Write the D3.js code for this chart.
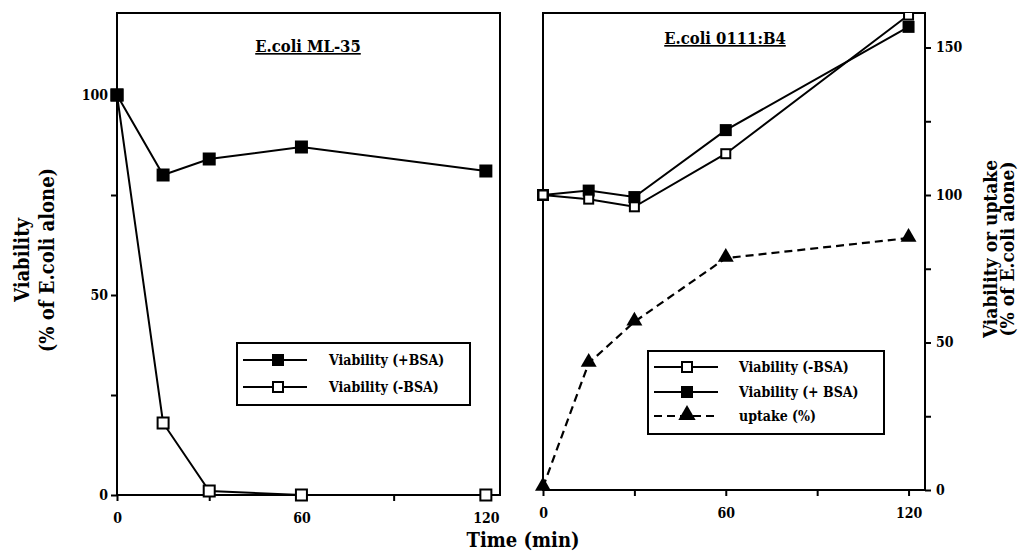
<!DOCTYPE html>
<html>
<head>
<meta charset="utf-8">
<script src="https://cdn.jsdelivr.net/npm/d3@7"></script>
<style>
  body { margin: 0; background: #fff; }
  svg text { font-family: "DejaVu Serif Condensed", "DejaVu Serif", serif; font-stretch: condensed; font-weight: bold; fill: #000; }
</style>
</head>
<body>
<svg id="chart" width="1020" height="553"></svg>
<script>
// ---- data ----
const times = [0, 15, 30, 60, 120];
const xTicks = [0, 60, 120];
const xMinorTicks = [30, 90];

// Left panel: E.coli ML-35
const leftTitle = "E.coli ML-35";
const leftPlusBSA = [100, 80, 84, 87, 81];
const leftMinusBSA = [100, 18, 1, 0, 0];
const leftYTicks = [0, 50, 100];
const leftYMinor = [25, 75];

// Right panel: E.coli 0111:B4
const rightTitle = "E.coli 0111:B4";
const rightMinusBSA = [100, 98.6, 96, 114, 161];
const rightPlusBSA = [100, 101.5, 99.3, 122, 157];
const rightUptake = [1, 43, 57, 78.6, 85.4];
const rightYTicks = [0, 50, 100, 150];
const rightYMinor = [25, 75, 125];

const svg = d3.select("#chart");

function squareMarker(g, pts, filled, size) {
  g.selectAll(null).data(pts).enter().append("rect")
    .attr("x", d => d[0] - size / 2).attr("y", d => d[1] - size / 2)
    .attr("width", size).attr("height", size)
    .attr("fill", filled ? "#000" : "#fff")
    .attr("stroke", "#000").attr("stroke-width", 2);
}
function triMarker(g, pts, size) {
  const sym = d3.symbol().type(d3.symbolTriangle).size(size);
  g.selectAll(null).data(pts).enter().append("path")
    .attr("d", sym).attr("transform", d => `translate(${d[0]},${d[1]})`)
    .attr("fill", "#000");
}
function styleAxis(a) {
  a.select(".domain").remove();
  a.selectAll("line").attr("stroke", "#000").attr("stroke-width", 2);
  a.selectAll("text").style("font-size", "14px");
}

// ---------------- LEFT PANEL ----------------
{
  const x = d3.scaleLinear().domain([0, 124.6]).range([117, 500]);
  const y = d3.scaleLinear().domain([0, 120.5]).range([495, 13]);
  const g = svg.append("g");

  g.append("rect").attr("x", 117).attr("y", 13).attr("width", 383).attr("height", 482)
    .attr("fill", "none").attr("stroke", "#000").attr("stroke-width", 2);

  [
    g.append("g").attr("transform", "translate(117,0)")
      .call(d3.axisLeft(y).tickValues(leftYTicks).tickSize(6).tickPadding(3).tickFormat(d3.format("d"))),
    g.append("g").attr("transform", "translate(117,0)")
      .call(d3.axisLeft(y).tickValues(leftYMinor).tickSize(6).tickFormat("")),
    g.append("g").attr("transform", "translate(0,495)")
      .call(d3.axisBottom(x).tickValues(xTicks).tickSize(6).tickPadding(12).tickFormat(d3.format("d"))),
    g.append("g").attr("transform", "translate(0,495)")
      .call(d3.axisBottom(x).tickValues(xMinorTicks).tickSize(6).tickFormat(""))
  ].forEach(styleAxis);

  const line = d3.line().x(d => x(d.t)).y(d => y(d.v));
  const plus = times.map((t, i) => ({ t, v: leftPlusBSA[i] }));
  const minus = times.map((t, i) => ({ t, v: leftMinusBSA[i] }));
  g.append("path").attr("d", line(plus)).attr("fill", "none").attr("stroke", "#000").attr("stroke-width", 2);
  g.append("path").attr("d", line(minus)).attr("fill", "none").attr("stroke", "#000").attr("stroke-width", 2);
  squareMarker(g, minus.map(d => [x(d.t), y(d.v)]), false, 11);
  squareMarker(g, plus.map(d => [x(d.t), y(d.v)]), true, 11);

  g.append("text").attr("x", 308).attr("y", 52).attr("text-anchor", "middle")
    .style("font-size", "16.5px").style("text-decoration", "underline").text(leftTitle);

  const lg = g.append("g");
  lg.append("rect").attr("x", 237).attr("y", 343).attr("width", 233).attr("height", 62)
    .attr("fill", "#fff").attr("stroke", "#000").attr("stroke-width", 2);
  const rows = [{ y: 360, filled: true, label: "Viability (+BSA)" },
                { y: 387, filled: false, label: "Viability (-BSA)" }];
  rows.forEach(r => {
    lg.append("line").attr("x1", 243).attr("x2", 307).attr("y1", r.y).attr("y2", r.y)
      .attr("stroke", "#000").attr("stroke-width", 2);
    squareMarker(lg, [[278, r.y]], r.filled, 10);
    lg.append("text").attr("x", 329).attr("y", r.y + 5).style("font-size", "14px").text(r.label);
  });

  const yl = g.append("text").attr("transform", "translate(29,260) rotate(-90)")
    .attr("text-anchor", "middle").style("font-size", "20px");
  yl.append("tspan").attr("x", 0).attr("dy", 0).text("Viability");
  yl.append("tspan").attr("x", 0).attr("dy", 25).text("(% of E.coli alone)");
}

// ---------------- RIGHT PANEL ----------------
{
  const x = d3.scaleLinear().domain([0, 125.4]).range([543, 925]);
  const y = d3.scaleLinear().domain([0, 161.7]).range([490, 13]);
  const g = svg.append("g");

  g.append("rect").attr("x", 543).attr("y", 13).attr("width", 382).attr("height", 477)
    .attr("fill", "none").attr("stroke", "#000").attr("stroke-width", 2);

  [
    g.append("g").attr("transform", "translate(925,0)")
      .call(d3.axisRight(y).tickValues(rightYTicks).tickSize(6).tickPadding(5).tickFormat(d3.format("d"))),
    g.append("g").attr("transform", "translate(925,0)")
      .call(d3.axisRight(y).tickValues(rightYMinor).tickSize(6).tickFormat("")),
    g.append("g").attr("transform", "translate(0,490)")
      .call(d3.axisBottom(x).tickValues(xTicks).tickSize(6).tickPadding(12).tickFormat(d3.format("d"))),
    g.append("g").attr("transform", "translate(0,490)")
      .call(d3.axisBottom(x).tickValues(xMinorTicks).tickSize(6).tickFormat(""))
  ].forEach(styleAxis);

  g.append("clipPath").attr("id", "rclip").append("rect")
    .attr("x", 530).attr("y", 13).attr("width", 410).attr("height", 490);
  const pg = g.append("g").attr("clip-path", "url(#rclip)");

  const line = d3.line().x(d => x(d.t)).y(d => y(d.v));
  const minus = times.map((t, i) => ({ t, v: rightMinusBSA[i] }));
  const plus = times.map((t, i) => ({ t, v: rightPlusBSA[i] }));
  const up = times.map((t, i) => ({ t, v: rightUptake[i] }));
  pg.append("path").attr("d", line(minus)).attr("fill", "none").attr("stroke", "#000").attr("stroke-width", 2);
  pg.append("path").attr("d", line(plus)).attr("fill", "none").attr("stroke", "#000").attr("stroke-width", 2);
  pg.append("path").attr("d", line(up)).attr("fill", "none").attr("stroke", "#000").attr("stroke-width", 2.2)
    .attr("stroke-dasharray", "8,5");
  squareMarker(pg, plus.map(d => [x(d.t), y(d.v)]), true, 10);
  squareMarker(pg, minus.map(d => [x(d.t), y(d.v)]), false, 9);
  triMarker(pg, up.map(d => [x(d.t), y(d.v) - 1]), 110);

  g.append("text").attr("x", 725).attr("y", 44).attr("text-anchor", "middle")
    .style("font-size", "16.5px").style("text-decoration", "underline").text(rightTitle);

  const lg = g.append("g");
  lg.append("rect").attr("x", 648).attr("y", 351).attr("width", 236).attr("height", 83)
    .attr("fill", "#fff").attr("stroke", "#000").attr("stroke-width", 2);
  const rows = [{ y: 367, type: "open", label: "Viability (-BSA)" },
                { y: 392, type: "filled", label: "Viability (+ BSA)" },
                { y: 416, type: "tri", label: "uptake (%)" }];
  rows.forEach(r => {
    lg.append("line").attr("x1", 654).attr("x2", 718).attr("y1", r.y).attr("y2", r.y)
      .attr("stroke", "#000").attr("stroke-width", 2)
      .attr("stroke-dasharray", r.type === "tri" ? "8,5" : null);
    if (r.type === "tri") triMarker(lg, [[687, r.y - 1]], 130);
    else squareMarker(lg, [[687, r.y]], r.type === "filled", 10);
    lg.append("text").attr("x", 739).attr("y", r.y + 5).style("font-size", "14px").text(r.label);
  });

  const yl = g.append("text").attr("transform", "translate(997,249) rotate(-90)")
    .attr("text-anchor", "middle").style("font-size", "19px");
  yl.append("tspan").attr("x", 0).attr("dy", 0).text("Viability or uptake");
  yl.append("tspan").attr("x", 0).attr("dy", 17).text("(% of E.coli alone)");
}

svg.append("text").attr("x", 523).attr("y", 547).attr("text-anchor", "middle")
  .style("font-size", "20px").text("Time (min)");
</script>
</body>
</html>
